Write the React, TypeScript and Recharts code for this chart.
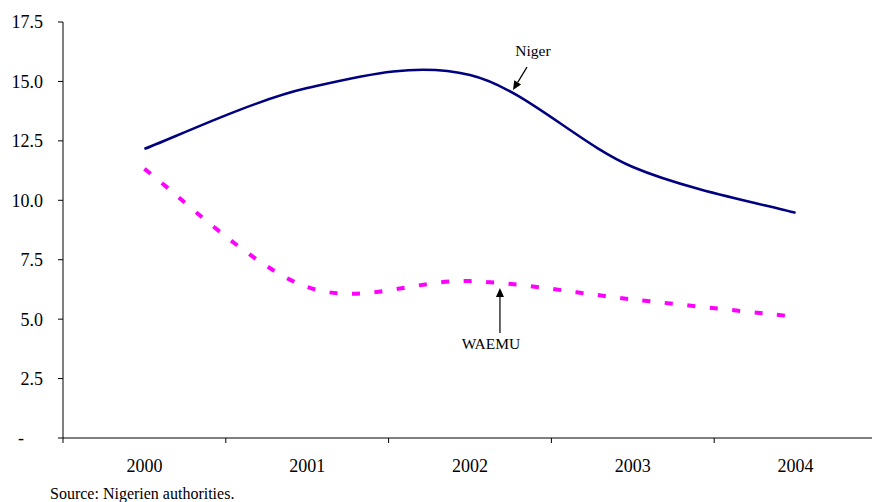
import React from 'react';
import { LineChart, Line, XAxis, YAxis, ReferenceLine } from 'recharts';

const years = ['2000', '2001', '2002', '2003', '2004'];
const nigerValues = [12.16, 14.72, 15.27, 11.4, 9.47];
const waemuValues = [11.32, 6.35, 6.6, 5.83, 5.1];
const yTicks = [0, 2.5, 5, 7.5, 10, 12.5, 15, 17.5];
const sourceNote = 'Source: Nigerien authorities.';

const annotations = [
  { label: 'Niger', from: [2.35, 15.6], to: [2.264, 14.64], textDx: 6, textDy: -11 },
  { label: 'WAEMU', from: [2.184, 4.42], to: [2.184, 6.31], textDx: -9, textDy: 16 },
];

const data = years.map((year, i) => ({ idx: i, year, niger: nigerValues[i], waemu: waemuValues[i] }));
const xTicks: number[] = [];
for (let i = 0; i <= years.length * 2; i++) xTicks.push(-0.5 + i * 0.5);

const FONT = '"Liberation Serif", "Times New Roman", serif';

// Excel-like smoothing (Catmull-Rom through the data points)
function smoothCurve(context: any) {
  let pts: number[][] = [];
  return {
    areaStart() {},
    areaEnd() {},
    lineStart() {
      pts = [];
    },
    lineEnd() {
      const n = pts.length;
      if (!n) return;
      context.moveTo(pts[0][0], pts[0][1]);
      for (let i = 0; i < n - 1; i++) {
        const p0 = pts[i - 1] || pts[i];
        const p1 = pts[i];
        const p2 = pts[i + 1];
        const p3 = pts[i + 2] || p2;
        context.bezierCurveTo(
          p1[0] + (p2[0] - p0[0]) / 6,
          p1[1] + (p2[1] - p0[1]) / 6,
          p2[0] - (p3[0] - p1[0]) / 6,
          p2[1] - (p3[1] - p1[1]) / 6,
          p2[0],
          p2[1]
        );
      }
    },
    point(x: number, y: number) {
      pts.push([+x, +y]);
    },
  };
}

const XTick = (props: any) => {
  const { x, y, payload } = props;
  const v = payload.value;
  if (Number.isInteger(v)) {
    return (
      <text x={x} y={y + 21} dy="0.71em" textAnchor="middle" fontFamily={FONT} fontSize={18} fill="#000">
        {years[v]}
      </text>
    );
  }
  return <line x1={x} y1={y} x2={x} y2={y + 5} stroke="#000" strokeWidth={1} />;
};

const YTick = (props: any) => {
  const { x, y, payload } = props;
  const v = payload.value;
  return (
    <text x={v === 0 ? x - 19 : x} y={y} dy="0.355em" textAnchor="end" fontFamily={FONT} fontSize={18} fill="#000">
      {v === 0 ? '-' : v.toFixed(1)}
    </text>
  );
};

const makeArrow = (label: string, textDx: number, textDy: number) => (props: any) => {
  const { x1, y1, x2, y2 } = props;
  const dx = x2 - x1;
  const dy = y2 - y1;
  const len = Math.sqrt(dx * dx + dy * dy) || 1;
  const ux = dx / len;
  const uy = dy / len;
  const hl = 9;
  const hw = 4;
  const bx = x2 - ux * hl;
  const by = y2 - uy * hl;
  const pts = `${x2},${y2} ${bx - uy * hw},${by + ux * hw} ${bx + uy * hw},${by - ux * hw}`;
  return (
    <g>
      <line x1={x1} y1={y1} x2={bx} y2={by} stroke="#000" strokeWidth={1.2} />
      <polygon points={pts} fill="#000" />
      <text x={x1 + textDx} y={y1 + textDy} textAnchor="middle" fontFamily={FONT} fontSize={15.5} fill="#000">
        {label}
      </text>
    </g>
  );
};

export default function App() {
  return (
    <div style={{ position: 'absolute', left: 0, top: 0, width: 872, height: 502, overflow: 'hidden', background: '#fff' }}>
      <LineChart width={880} height={502} data={data} margin={{ top: 22, right: 3, bottom: 0, left: 0 }}>
        <XAxis
          dataKey="idx"
          type="number"
          domain={[-0.5, 4.5]}
          ticks={xTicks}
          interval={0}
          tick={<XTick />}
          tickLine={false}
          tickSize={0}
          tickMargin={0}
          height={64}
          axisLine={{ stroke: '#000', strokeWidth: 1 }}
        />
        <YAxis
          type="number"
          domain={[0, 17.5]}
          ticks={yTicks}
          interval={0}
          width={63}
          tickSize={5}
          tickMargin={15}
          tick={<YTick />}
          tickLine={{ stroke: '#000' }}
          axisLine={{ stroke: '#000', strokeWidth: 1 }}
        />
        <Line
          dataKey="niger"
          type={smoothCurve as any}
          stroke="#000080"
          strokeWidth={2.5}
          dot={false}
          activeDot={false}
          isAnimationActive={false}
        />
        <Line
          dataKey="waemu"
          type={smoothCurve as any}
          stroke="#FF00FF"
          strokeWidth={4}
          strokeDasharray="8 14.5"
          dot={false}
          activeDot={false}
          isAnimationActive={false}
        />
        {annotations.map((a) => (
          <ReferenceLine
            key={a.label}
            segment={[
              { x: a.from[0], y: a.from[1] },
              { x: a.to[0], y: a.to[1] },
            ]}
            shape={makeArrow(a.label, a.textDx, a.textDy)}
          />
        ))}
      </LineChart>
      <div
        style={{
          position: 'absolute',
          left: 50,
          top: 484,
          fontFamily: FONT,
          fontSize: 16,
          lineHeight: '20px',
          whiteSpace: 'nowrap',
          color: '#000',
        }}
      >
        {sourceNote}
      </div>
    </div>
  );
}
